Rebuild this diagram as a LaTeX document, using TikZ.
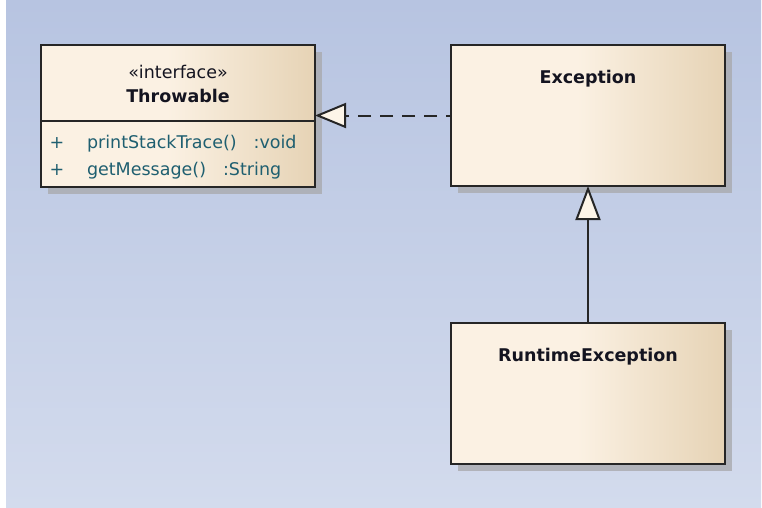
\documentclass[tikz,border=0pt]{standalone}
\usepackage{fontspec}
\setmainfont{DejaVu Sans}
\usetikzlibrary{arrows.meta,shadows}

\definecolor{bgtop}{HTML}{B7C4E1}
\definecolor{bgbot}{HTML}{D3DBED}
\definecolor{cream}{HTML}{FBF1E3}
\definecolor{tan}{HTML}{E6D3B5}
\definecolor{edge}{HTML}{262626}
\definecolor{attr}{HTML}{1F5F70}
\definecolor{namecol}{HTML}{141420}
\definecolor{tipfill}{HTML}{FDF5E8}
\definecolor{shadowcol}{HTML}{A9AAAE}

% pale cream on the left, warming to tan towards the right edge
\pgfdeclarehorizontalshading{classfill}{100bp}{color(0bp)=(cream); color(25bp)=(cream); color(48bp)=(cream); color(75bp)=(tan); color(100bp)=(tan)}

\tikzset{
  classbox/.style={rectangle, draw=edge, line width=2.3pt, outer sep=0pt, inner sep=0pt,
    minimum width=274pt, minimum height=141pt, shade, shading=classfill,
    drop shadow={shadow xshift=7pt, shadow yshift=-7pt, opacity=.8, fill=shadowcol}},
  txt/.style={inner sep=0pt, outer sep=0pt, font=\fontsize{17.5}{20}\selectfont},
  cname/.style={txt, font=\fontsize{17.5}{20}\selectfont\bfseries, text=namecol},
  stereo/.style={txt, text=namecol},
  attrtxt/.style={txt, text=attr},
  conn/.style={draw=edge, line width=2pt},
  realize/.style={conn, dash pattern=on 13pt off 9pt, dash phase=8pt,
    -{Triangle[length=31pt, width=25pt, fill=tipfill]}},
  generalize/.style={conn, -{Triangle[length=34pt, width=25pt, fill=tipfill]}}
}

\begin{document}
\begin{tikzpicture}[x=1pt, y=-1pt]
  \useasboundingbox (0,0) rectangle (762,507);
  \fill[white] (0,0) rectangle (762,507);
  \shade[top color=bgtop, bottom color=bgbot] (6,0) rectangle (761,507);

  % classes
  \node[classbox, minimum height=142pt] (thr) at (178,116) {};
  \node[classbox] (exc) at (588,115.5) {};
  \node[classbox] (rte) at (588,393.5) {};

  % Throwable: header and operations compartment
  \draw[draw=edge, line width=2.3pt] (thr.west |- 0,121) -- (thr.east |- 0,121);
  \node[stereo, anchor=base] (thrst) at (178,78) {«interface»};
  \node[cname, anchor=base] (thrnm) at (178,102) {Throwable};
  \node[attrtxt, anchor=base] (vis1) at (57,148) {+};
  \node[attrtxt, anchor=base west] (op1) at (87,148) {printStackTrace()\hspace{17pt}:void};
  \node[attrtxt, anchor=base] (vis2) at (57,175) {+};
  \node[attrtxt, anchor=base west] (op2) at (87,175) {getMessage()\hspace{17pt}:String};

  % class names
  \node[cname, anchor=base] (excnm) at (588,83) {Exception};
  \node[cname, anchor=base] (rtenm) at (588,361) {RuntimeException};

  % relationships
  \draw[realize] (exc.west) -- (thr.east |- exc.west);
  \draw[generalize] (rte.north) -- (exc.south);
\end{tikzpicture}
\end{document}
